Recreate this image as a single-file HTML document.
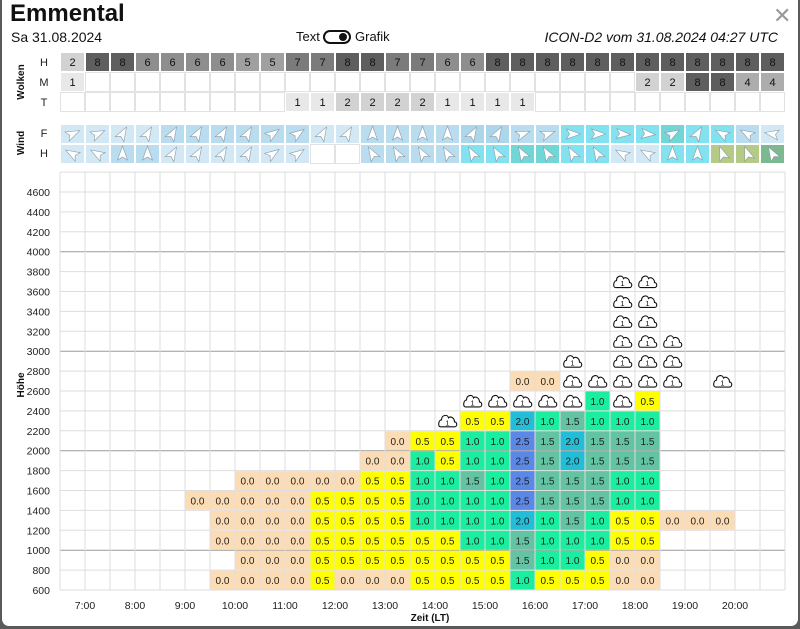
<!DOCTYPE html>
<html><head><meta charset="utf-8">
<style>
html,body{margin:0;padding:0;width:800px;height:629px;overflow:hidden;background:#5a5a5a;font-family:"Liberation Sans",sans-serif;}
#card{position:absolute;left:2px;top:0;width:796px;height:626px;background:#fff;border-radius:0 0 7px 7px;}
svg{position:absolute;left:0;top:0;}
.t{position:absolute;white-space:nowrap;color:#111;}
</style></head><body>
<div id="card"></div>
<div class="t" style="left:10px;top:0px;font-size:24px;font-weight:bold;">Emmental</div>
<div class="t" style="left:11px;top:29px;font-size:14px;">Sa 31.08.2024</div>
<div class="t" style="left:296px;top:29px;font-size:13px;">Text</div>
<div style="position:absolute;left:323px;top:30px;width:24px;height:10px;border:2px solid #111;border-radius:8px;"><div style="position:absolute;right:2px;top:1px;width:8px;height:8px;border-radius:50%;background:#111;"></div></div>
<div class="t" style="left:355px;top:29px;font-size:13px;">Grafik</div>
<div class="t" style="right:22px;top:29px;font-size:14px;font-style:italic;">ICON-D2 vom 31.08.2024 04:27 UTC</div>
<div class="t" style="left:773px;top:3px;font-size:22px;color:#999;">✕</div>
<svg id="chart" width="800" height="629" xmlns="http://www.w3.org/2000/svg" font-family="Liberation Sans, sans-serif"></svg>
<script>
const cloudH=[2,8,8,6,6,6,6,5,5,7,7,8,8,7,7,6,6,8,8,8,8,8,8,8,8,8,8,8,8];
const cloudM=[1,0,0,0,0,0,0,0,0,0,0,0,0,0,0,0,0,0,0,0,0,0,0,2,2,8,8,4,4];
const cloudT=[0,0,0,0,0,0,0,0,0,1,1,2,2,2,2,1,1,1,1,0,0,0,0,0,0,0,0,0,0];
const windFdir=[65,65,30,30,30,30,30,30,55,55,30,30,0,0,0,0,30,30,70,70,90,90,95,95,60,30,-60,-60,-80];
const windFcls=['L','L','L','L','M','M','M','M','M','M','L','L','M','M','M','M','N','N','M','M','C','C','C','C','T','C','C','M','L'];
const windHdir=[-60,-60,0,0,30,30,30,30,55,55,null,null,-30,-30,-30,-30,-30,-30,-30,-30,-30,-30,-60,-60,0,0,-20,-20,-30];
const windHcls=['L','L','M','M','L','L','L','L','L','L','W','W','M','M','M','M','C','C','T','T','C','C','L','L','C','C','G','G','H'];
const N=null,C='c';
const r600 =[N,N,N,N,N,N,0,0,0,0,.5,0,0,0,.5,.5,.5,.5,1,.5,.5,.5,0,0,N,N,N,N,N];
const r800 =[N,N,N,N,N,N,N,0,0,0,.5,.5,.5,.5,.5,.5,.5,.5,1.5,1,1,.5,0,0,N,N,N,N,N];
const r1000=[N,N,N,N,N,N,0,0,0,0,.5,.5,.5,.5,.5,.5,1,1,1.5,1,1,1,.5,.5,N,N,N,N,N];
const r1200=[N,N,N,N,N,N,0,0,0,0,.5,.5,.5,.5,1,1,1,1,2,1,1.5,1,.5,.5,0,0,0,N,N];
const r1400=[N,N,N,N,N,0,0,0,0,0,.5,.5,.5,.5,1,1,1,1,2.5,1.5,1.5,1.5,1,1,N,N,N,N,N];
const r1600=[N,N,N,N,N,N,N,0,0,0,0,0,.5,.5,1,1,1.5,1,2.5,1.5,1.5,1.5,1,1,N,N,N,N,N];
const r1800=[N,N,N,N,N,N,N,N,N,N,N,N,0,0,1,.5,1,1,2.5,1.5,2,1.5,1.5,1.5,N,N,N,N,N];
const r2000=[N,N,N,N,N,N,N,N,N,N,N,N,N,0,.5,.5,1,1,2.5,1.5,2,1.5,1.5,1.5,N,N,N,N,N];
const r2200=[N,N,N,N,N,N,N,N,N,N,N,N,N,N,N,C,.5,.5,2,1,1.5,1,1,1,N,N,N,N,N];
const r2400=[N,N,N,N,N,N,N,N,N,N,N,N,N,N,N,N,C,C,C,C,C,1,C,.5,N,N,N,N,N];
const r2600=[N,N,N,N,N,N,N,N,N,N,N,N,N,N,N,N,N,N,0,0,C,C,C,C,C,N,C,N,N];
const r2800=[N,N,N,N,N,N,N,N,N,N,N,N,N,N,N,N,N,N,N,N,C,N,C,C,C,N,N,N,N];
const r3000=[N,N,N,N,N,N,N,N,N,N,N,N,N,N,N,N,N,N,N,N,N,N,C,C,C,N,N,N,N];
const r3200=[N,N,N,N,N,N,N,N,N,N,N,N,N,N,N,N,N,N,N,N,N,N,C,C,N,N,N,N,N];
const r3400=[N,N,N,N,N,N,N,N,N,N,N,N,N,N,N,N,N,N,N,N,N,N,C,C,N,N,N,N,N];
const r3600=[N,N,N,N,N,N,N,N,N,N,N,N,N,N,N,N,N,N,N,N,N,N,C,C,N,N,N,N,N];
const rowAlts=[600,800,1000,1200,1400,1600,1800,2000,2200,2400,2600,2800,3000,3200,3400,3600];
const rows=[r600,r800,r1000,r1200,r1400,r1600,r1800,r2000,r2200,r2400,r2600,r2800,r3000,r3200,r3400,r3600];
const yTicks=[600,800,1000,1200,1400,1600,1800,2000,2200,2400,2600,2800,3000,3200,3400,3600,3800,4000,4200,4400,4600];
const timeLabels=['7:00','8:00','9:00','10:00','11:00','12:00','13:00','14:00','15:00','16:00','17:00','18:00','19:00','20:00'];

const svg=document.getElementById('chart');
const NS='http://www.w3.org/2000/svg';
const X0=60,CW=25,NC=29;
const xCol=i=>X0+i*CW;
const yAlt=a=>590-(a-600)/200*19.9;
function mk(tag,attrs,parent){const e=document.createElementNS(NS,tag);for(const k in attrs)e.setAttribute(k,attrs[k]);(parent||svg).appendChild(e);return e;}
function txt(x,y,s,attrs){const e=mk('text',Object.assign({x:x,y:y},attrs||{}));e.textContent=s;return e;}

// side labels
[['Wolken',82,'clouds-section-label'],['Wind',143,'wind-section-label'],['Höhe',385,'y-axis-title']].forEach(([s,y,n])=>{
 const e=txt(0,0,s,{'font-size':10,'font-weight':'bold','text-anchor':'middle',transform:`translate(24,${y}) rotate(-90)`,fill:'#111'});
 
 
});
[['H',62],['M',82],['T',102],['F',133],['H',153]].forEach(([s,y])=>{
 const e=txt(44,y+4,s,{'font-size':11,'text-anchor':'middle',fill:'#222'});
 
 
});

// cloud table
const grayFor={1:'#e8e8e8',2:'#d2d2d2',4:'#adadad',5:'#a0a0a0',6:'#8e8e8e',7:'#7b7b7b',8:'#5e5e5e'};
[[cloudH,52],[cloudM,72],[cloudT,92]].forEach(([arr,y],ri)=>{
 arr.forEach((v,i)=>{
  const r=mk('rect',{x:xCol(i)+0.5,y:y+0.5,width:CW-1,height:19,fill:v?grayFor[v]:'#fff',stroke:v?'#fff':'#e2e2e2','stroke-width':1});
  
  
  if(v){const t=txt(xCol(i)+CW/2,y+14,String(v),{'font-size':11,'text-anchor':'middle',fill:'#111'});
   
   }
 });
});

// wind table
const windCol={L:'#d3e8f5',M:'#b9dcee',N:'#acd6ea',C:'#82e2f0',T:'#70d7d6',G:'#b4ca86',H:'#7bb991',W:'#ffffff'};
[[windFdir,windFcls,124],[windHdir,windHcls,144]].forEach(([dirs,cls,y])=>{
 dirs.forEach((d,i)=>{
  const r=mk('rect',{x:xCol(i)+0.5,y:y+0.5,width:CW-1,height:19,fill:windCol[cls[i]],stroke:cls[i]==='W'?'#e2e2e2':'#fff'});
  
  
  if(d!==null){
   const a=mk('polygon',{points:'0,-8 5,6 0,3 -5,6',fill:'#fff',stroke:'#8a9aa6','stroke-width':0.6,transform:`translate(${xCol(i)+CW/2},${y+10}) rotate(${d})`});
   
   
  }
 });
});

// main grid
const gTop=yAlt(4800);
for(let a=600;a<=4800;a+=200){
 const major=(a%1000===0);
 const l=mk('line',{x1:X0,x2:xCol(NC),y1:yAlt(a),y2:yAlt(a),stroke:major?'#9a9a9a':'#dedede','stroke-width':1});
 
 
}
for(let i=0;i<=NC;i++){
 const l=mk('line',{x1:xCol(i),x2:xCol(i),y1:gTop,y2:590,stroke:'#dedede','stroke-width':1});
 
 
}
yTicks.forEach(a=>{
 const t=txt(50,yAlt(a)+4,String(a),{'font-size':10.5,'text-anchor':'end',fill:'#222'});
 
 
});
timeLabels.forEach((s,j)=>{
 const t=txt(xCol(1+2*j),609,s,{'font-size':10.5,'text-anchor':'middle',fill:'#222'});
 
 
});
const xt=txt(430,621,'Zeit (LT)',{'font-size':10,'font-weight':'bold','text-anchor':'middle',fill:'#111'});



const liftCol={0:'#fcdcb5',0.5:'#ffff00',1:'#1bee9f',1.5:'#62c4a2',2:'#22bdd6',2.5:'#5b87e6'};
const cloudPath='M-7,5 L7,5 C10,5 10,0 7,0 C7,-4 3,-6 1,-4 C0,-8 -6,-7 -6,-2 C-9,-2 -10,5 -7,5 Z';
rows.forEach((row,k)=>{
 const alt=rowAlts[k];
 const yT=yAlt(alt+200), h=yAlt(alt)-yT;
 row.forEach((v,i)=>{
  if(v===null)return;
  if(v==='c'){
   const g=mk('g',{transform:`translate(${xCol(i)+CW/2},${yT+h/2+1})`});
   
   
   mk('path',{d:cloudPath,fill:'#fff',stroke:'#111','stroke-width':1.1},g);
   const t=txt(0,3.5,'1',{'font-size':7.5,'text-anchor':'middle',fill:'#111'});g.appendChild(t);
   return;
  }
  const r=mk('rect',{x:xCol(i)+0.5,y:yT+0.5,width:CW-1,height:h-1,fill:liftCol[v]});
  
  
  const t=txt(xCol(i)+CW/2,yT+h/2+4,v.toFixed(1),{'font-size':10,'text-anchor':'middle',fill:'#222'});
  
  
 });
});
</script>
</body></html>
